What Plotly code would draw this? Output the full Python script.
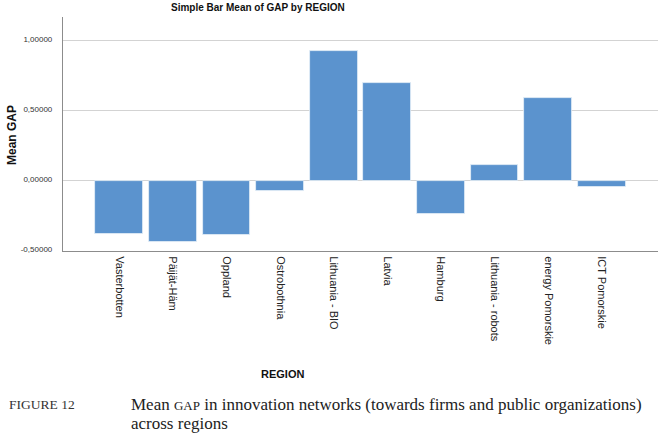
import plotly.graph_objects as go

regions = ["Vasterbotten", "Päijät-Häm", "Oppland", "Ostrobothnia", "Lithuania - BIO",
           "Latvia", "Hamburg", "Lithuania - robots", "energy Pomorskie", "ICT Pomorskie"]
mean_gap = [-0.379, -0.433, -0.386, -0.074, 0.929, 0.697, -0.238, 0.112, 0.589, -0.045]
y_tickvals = [-0.5, 0.0, 0.5, 1.0]
y_ticktext = ["-0,50000", "0,00000", "0,50000", "1,00000"]

W, H = 662, 436
L, R, T, B = 63, 658, 17, 251

def px(x):
    return (x - L) / (R - L)

def py(y):
    return (B - y) / (B - T)

fig = go.Figure()
fig.add_trace(go.Bar(
    x=list(range(len(regions))), y=mean_gap, width=0.89,
    marker=dict(color="#5b93ce", line=dict(color="#e9f0f8", width=0.8)),
))

fig.update_layout(
    width=W, height=H,
    margin=dict(l=L, r=W - R, t=T, b=H - B, pad=0),
    paper_bgcolor="white", plot_bgcolor="white",
    showlegend=False,
    font=dict(family="Liberation Sans, Arial, sans-serif", color="#222"),
    bargap=0,
)
fig.update_xaxes(
    range=[-1.05, 10.05], tickvals=list(range(len(regions))), ticktext=regions,
    tickangle=90, tickfont=dict(size=11, color="#222"),
    showline=True, linecolor="#8c8c8c", linewidth=1.2,
    showgrid=False, zeroline=False, ticks="", ticklabelstandoff=2,
)
fig.update_yaxes(
    range=[-0.5, 1.17], tickvals=y_tickvals, ticktext=y_ticktext,
    tickfont=dict(size=8, color="#333"),
    showline=True, linecolor="#8c8c8c", linewidth=1.2,
    showgrid=True, gridcolor="#d3d3d3", gridwidth=1.2,
    zeroline=False, ticks="", ticklabelstandoff=8, ticklabelshift=-2,
)

anns = [
    dict(x=px(258), y=py(8), text="<b>Simple Bar Mean of GAP by REGION</b>",
         font=dict(size=10, family="Liberation Sans, Arial", color="#111")),
    dict(x=px(12), y=py(135), text="<b>Mean GAP</b>", textangle=-90,
         font=dict(size=12, family="Liberation Sans, Arial", color="#111")),
    dict(x=px(282), y=py(374), text="<b>REGION</b>",
         font=dict(size=11, family="Liberation Sans, Arial", color="#111")),
    dict(x=px(7), y=py(404), xanchor="left", text="FIGURE 12",
         font=dict(size=13.5, family="Liberation Serif, serif", color="#333")),
    dict(x=px(129), y=py(404), xanchor="left",
         text="Mean <span style='font-size:13px'>GAP</span> in innovation networks (towards firms and public organizations)",
         font=dict(size=17, family="Liberation Serif, serif", color="#222")),
    dict(x=px(129), y=py(423), xanchor="left", text="across regions",
         font=dict(size=17, family="Liberation Serif, serif", color="#222")),
]
for a in anns:
    a.setdefault("xanchor", "center")
    a.update(xref="paper", yref="paper", yanchor="middle", showarrow=False)
    fig.add_annotation(**a)

fig.write_html("out.html")
